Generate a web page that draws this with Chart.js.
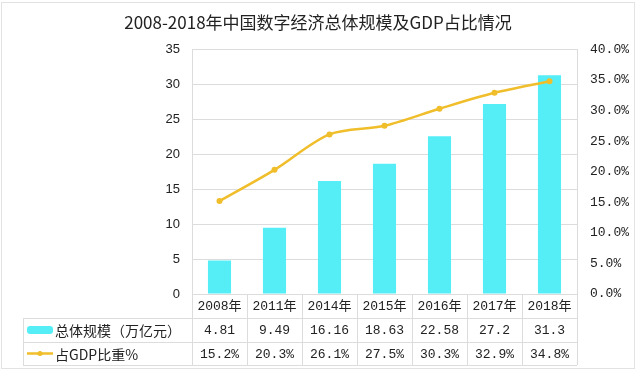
<!DOCTYPE html>
<html><head><meta charset="utf-8">
<script src="https://cdn.jsdelivr.net/npm/chart.js@4.4.1/dist/chart.umd.min.js"></script>
<style>html,body{margin:0;padding:0;background:#fff}#wrap{width:636px;height:371px;position:relative}</style>
</head><body><div id="wrap"><canvas id="c" width="636" height="371"></canvas></div>
<script>
const categories = ['2008年','2011年','2014年','2015年','2016年','2017年','2018年'];
const scaleValues = [4.81, 9.49, 16.16, 18.63, 22.58, 27.2, 31.3];
const shareValues = [15.2, 20.3, 26.1, 27.5, 30.3, 32.9, 34.8];
const scaleLabels = ['4.81','9.49','16.16','18.63','22.58','27.2','31.3'];
const shareLabels = ['15.2%','20.3%','26.1%','27.5%','30.3%','32.9%','34.8%'];
const seriesNames = ['总体规模（万亿元）','占GDP比重%'];
const titleText = '2008-2018年中国数字经济总体规模及GDP占比情况';

const BAR = '#55EEF7', LINE = '#F0BE2A', GRID = '#dcdcdc';
const MONO = "'Liberation Mono','Noto Sans CJK SC',monospace";
const CJK = "'Noto Sans CJK SC',sans-serif";

const tablePlugin = {
  id: 'table',
  afterDraw(chart) {
    const ctx = chart.ctx, x = chart.scales.x, a = chart.chartArea;
    const n = categories.length;
    const colW = (a.right - a.left) / n;
    const tLeft = 23, r0 = a.bottom, r1 = r0 + 24, r2 = r1 + 24, r3 = r2 + 23;
    ctx.save();
    ctx.strokeStyle = GRID; ctx.lineWidth = 1;
    ctx.beginPath();
    [r1, r2, r3].forEach(y => { ctx.moveTo(tLeft, y + 0.5); ctx.lineTo(a.right, y + 0.5); });
    ctx.moveTo(tLeft + 0.5, r1); ctx.lineTo(tLeft + 0.5, r3);
    for (let i = 0; i <= n; i++) {
      const xx = Math.round(a.left + i * colW) + 0.5;
      ctx.moveTo(xx, r0); ctx.lineTo(xx, r3);
    }
    ctx.stroke();
    // outer frame
    ctx.strokeStyle = '#e2e2e2';
    ctx.strokeRect(1.5, 2.5, 633, 366);
    ctx.fillStyle = '#222';
    ctx.textAlign = 'center'; ctx.textBaseline = 'middle';
    ctx.font = '13px ' + MONO;
    for (let i = 0; i < n; i++) {
      const cx = x.getPixelForValue(i);
      ctx.fillText(categories[i], cx, (r0 + r1) / 2 + 1);
      ctx.fillText(scaleLabels[i], cx, (r1 + r2) / 2 + 1);
      ctx.fillText(shareLabels[i], cx, (r2 + r3) / 2 + 1);
    }
    // legend keys
    ctx.fillStyle = BAR;
    ctx.beginPath();
    ctx.roundRect(27, (r1 + r2) / 2 - 4, 26, 8, 3);
    ctx.fill();
    ctx.strokeStyle = LINE; ctx.lineWidth = 2.5;
    ctx.beginPath(); ctx.moveTo(27, (r2 + r3) / 2); ctx.lineTo(53, (r2 + r3) / 2); ctx.stroke();
    ctx.fillStyle = LINE;
    ctx.beginPath(); ctx.arc(40, (r2 + r3) / 2, 2.5, 0, Math.PI * 2); ctx.fill();
    ctx.fillStyle = '#222';
    ctx.textAlign = 'left';
    ctx.font = '14px ' + CJK;
    ctx.fillText(seriesNames[0], 55, (r1 + r2) / 2 + 1);
    ctx.fillText(seriesNames[1], 55, (r2 + r3) / 2 + 1);
    ctx.restore();
  }
};

new Chart(document.getElementById('c'), {
  data: {
    labels: categories,
    datasets: [
      { type: 'line', label: seriesNames[1], data: shareValues, yAxisID: 'y2',
        borderColor: LINE, backgroundColor: LINE, borderWidth: 2.5, tension: 0.3,
        pointRadius: 3, pointBackgroundColor: LINE, pointBorderWidth: 0, order: 0 },
      { type: 'bar', label: seriesNames[0], data: scaleValues, yAxisID: 'y',
        backgroundColor: BAR, barPercentage: 0.42, categoryPercentage: 1, order: 1 }
    ]
  },
  options: {
    responsive: false, animation: false,
    layout: { padding: { left: 0, right: 0, top: 0, bottom: 69 } },
    plugins: {
      legend: { display: false }, tooltip: { enabled: false },
      title: { display: true, text: titleText, color: '#222',
        font: { family: CJK, size: 17, weight: 'normal' }, padding: { top: 12, bottom: 17 } }
    },
    scales: {
      x: { grid: { display: false }, ticks: { display: false }, border: { color: GRID } },
      y: { position: 'left', min: 0, max: 35,
        ticks: { stepSize: 5, padding: 12, color: '#222', font: { family: "'Liberation Sans',Arial,sans-serif", size: 13 } },
        grid: { color: GRID, drawTicks: false }, border: { color: GRID },
        afterFit(s) { s.width = 192; } },
      y2: { position: 'right', min: 0, max: 40,
        ticks: { stepSize: 5, padding: 13, color: '#222', font: { family: MONO, size: 13 },
          callback: v => v.toFixed(1) + '%' },
        grid: { display: false, drawTicks: false }, border: { color: GRID },
        afterFit(s) { s.width = 59; } }
    }
  },
  plugins: [tablePlugin]
});
</script></body></html>
